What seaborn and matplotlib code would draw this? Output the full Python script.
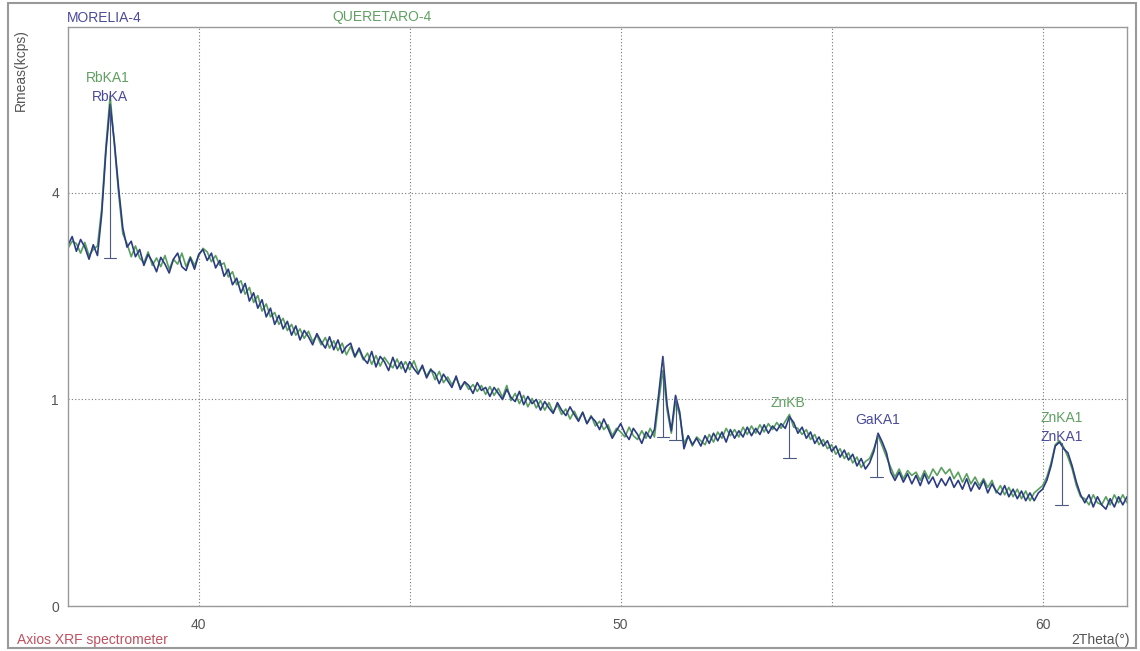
import numpy as np
import pandas as pd
import matplotlib
matplotlib.use("Agg")
import matplotlib.pyplot as plt
from matplotlib.patches import Rectangle
from matplotlib.ticker import MultipleLocator, FixedLocator, FuncFormatter
import seaborn as sns

# 2Theta grid of the scan (degrees), 0.1 step
theta = np.round(np.arange(36.9, 62.05, 0.1), 1)

# Rmeas (kcps) - MORELIA-4 (blue)
morelia = [
    3.05, 3.20, 2.95, 3.15, 3.02, 2.82, 3.06, 2.88, 3.60, 4.85,
    5.90, 5.05, 4.10, 3.35, 3.02, 3.12, 2.86, 2.98, 2.72, 2.90,
    2.78, 2.62, 2.85, 2.74, 2.60, 2.82, 2.92, 2.70, 2.64, 2.84,
    2.66, 2.90, 2.98, 2.80, 2.92, 2.68, 2.80, 2.55, 2.66, 2.42,
    2.52, 2.30, 2.44, 2.18, 2.30, 2.08, 2.20, 1.96, 2.08, 1.86,
    1.98, 1.80, 1.90, 1.72, 1.84, 1.66, 1.78, 1.70, 1.60, 1.74,
    1.64, 1.56, 1.70, 1.54, 1.66, 1.50, 1.58, 1.62, 1.46, 1.56,
    1.44, 1.38, 1.52, 1.34, 1.46, 1.40, 1.30, 1.45, 1.32, 1.40,
    1.28, 1.40, 1.32, 1.26, 1.36, 1.22, 1.31, 1.27, 1.16, 1.26,
    1.19, 1.12, 1.24, 1.10, 1.18, 1.14, 1.06, 1.17, 1.09, 1.12,
    1.03, 1.12, 1.06, 1.00, 1.10, 1.02, 0.98, 1.08, 0.95, 1.03,
    0.96, 1.00, 0.90, 0.98, 0.92, 0.87, 0.97, 0.90, 0.85, 0.93,
    0.86, 0.80, 0.88, 0.78, 0.84, 0.80, 0.73, 0.82, 0.74, 0.66,
    0.72, 0.78, 0.70, 0.65, 0.74, 0.69, 0.62, 0.71, 0.66, 0.73,
    1.05, 1.46, 0.95, 0.72, 1.04, 0.88, 0.58, 0.68, 0.61, 0.66,
    0.60, 0.68, 0.62, 0.70, 0.64, 0.71, 0.63, 0.73, 0.66, 0.72,
    0.67, 0.75, 0.68, 0.74, 0.69, 0.77, 0.70, 0.76, 0.72, 0.78,
    0.74, 0.84, 0.79, 0.70, 0.75, 0.66, 0.71, 0.62, 0.67, 0.60,
    0.64, 0.56, 0.60, 0.52, 0.57, 0.50, 0.54, 0.46, 0.51, 0.44,
    0.48, 0.56, 0.70, 0.63, 0.55, 0.42, 0.37, 0.42, 0.36, 0.41,
    0.35, 0.40, 0.34, 0.41, 0.35, 0.39, 0.33, 0.38, 0.34, 0.39,
    0.33, 0.37, 0.32, 0.38, 0.31, 0.36, 0.32, 0.37, 0.30, 0.35,
    0.31, 0.29, 0.34, 0.28, 0.32, 0.27, 0.31, 0.26, 0.30, 0.26,
    0.30, 0.32, 0.37, 0.46, 0.60, 0.63, 0.58, 0.55, 0.46, 0.36,
    0.29, 0.25, 0.29, 0.23, 0.28, 0.24, 0.22, 0.27, 0.23, 0.28,
    0.24, 0.28,
]

# Rmeas (kcps) - QUERETARO-4 (green)
queretaro = [
    3.00, 3.12, 3.08, 2.92, 3.10, 2.88, 2.98, 3.04, 3.70, 4.95,
    6.10, 5.00, 4.00, 3.25, 3.08, 2.86, 3.04, 2.84, 2.76, 2.94,
    2.72, 2.84, 2.70, 2.88, 2.66, 2.82, 2.74, 2.92, 2.70, 2.86,
    2.72, 2.88, 3.00, 2.94, 2.78, 2.88, 2.72, 2.76, 2.54, 2.62,
    2.42, 2.48, 2.28, 2.38, 2.16, 2.26, 2.04, 2.14, 1.96, 2.02,
    1.86, 1.94, 1.78, 1.86, 1.72, 1.80, 1.68, 1.77, 1.64, 1.72,
    1.60, 1.69, 1.56, 1.65, 1.53, 1.62, 1.48, 1.58, 1.45, 1.54,
    1.42, 1.50, 1.37, 1.47, 1.35, 1.45, 1.38, 1.33, 1.43, 1.32,
    1.40, 1.31, 1.41, 1.28, 1.34, 1.24, 1.32, 1.20, 1.29, 1.17,
    1.23, 1.15, 1.22, 1.12, 1.17, 1.10, 1.15, 1.08, 1.14, 1.05,
    1.13, 1.04, 1.11, 1.02, 1.14, 0.99, 1.06, 0.96, 1.04, 0.93,
    1.01, 0.92, 0.99, 0.90, 0.97, 0.88, 0.95, 0.86, 0.91, 0.82,
    0.89, 0.81, 0.88, 0.78, 0.85, 0.76, 0.80, 0.73, 0.77, 0.68,
    0.74, 0.71, 0.67, 0.75, 0.68, 0.65, 0.72, 0.66, 0.74, 0.67,
    0.98, 1.30, 0.90, 0.70, 0.98, 0.85, 0.62, 0.68, 0.60, 0.67,
    0.64, 0.61, 0.69, 0.63, 0.71, 0.66, 0.74, 0.68, 0.73, 0.67,
    0.75, 0.69, 0.76, 0.70, 0.77, 0.71, 0.78, 0.73, 0.79, 0.74,
    0.80, 0.86, 0.75, 0.74, 0.69, 0.73, 0.65, 0.69, 0.61, 0.65,
    0.58, 0.61, 0.54, 0.58, 0.51, 0.55, 0.48, 0.52, 0.45, 0.49,
    0.51, 0.58, 0.68, 0.60, 0.52, 0.45, 0.39, 0.44, 0.38, 0.43,
    0.40, 0.42, 0.37, 0.43, 0.38, 0.44, 0.40, 0.45, 0.41, 0.44,
    0.38, 0.42, 0.36, 0.41, 0.35, 0.39, 0.34, 0.38, 0.33, 0.37,
    0.30, 0.34, 0.29, 0.33, 0.28, 0.32, 0.27, 0.31, 0.26, 0.30,
    0.32, 0.34, 0.39, 0.48, 0.61, 0.64, 0.59, 0.52, 0.44, 0.34,
    0.28, 0.27, 0.24, 0.29, 0.25, 0.24, 0.28, 0.24, 0.29, 0.25,
    0.29, 0.25,
]

# peak markers (2Theta, top, base in kcps)
peak_pos = [37.9, 51.0, 51.3, 54.0, 56.07, 60.45]
peak_top = [5.9, 1.44, 1.02, 0.84, 0.70, 0.62]
peak_base = [2.84, 0.67, 0.646, 0.514, 0.39, 0.24]

# peak labels
label_text = ["RbKA1", "RbKA", "ZnKB", "GaKA1", "ZnKA1", "ZnKA1"]
label_x = [37.85, 37.9, 53.96, 56.09, 60.45, 60.45]
label_y = [6.54, 6.08, 0.966, 0.811, 0.829, 0.670]
label_sample = ["QUERETARO-4", "MORELIA-4", "QUERETARO-4", "MORELIA-4", "QUERETARO-4", "MORELIA-4"]

colors = {"MORELIA-4": "#2c3c82", "QUERETARO-4": "#5aa05e"}
text_colors = {"MORELIA-4": "#4a4a9a", "QUERETARO-4": "#5fa060"}

df = pd.concat([
    pd.DataFrame({"theta": theta, "rmeas": queretaro, "sample": "QUERETARO-4"}),
    pd.DataFrame({"theta": theta, "rmeas": morelia, "sample": "MORELIA-4"}),
])

sns.set_style("white")
plt.rcParams["font.family"] = ["Liberation Sans", "DejaVu Sans"]

fig = plt.figure(figsize=(11.4, 6.51), dpi=100)
ax = fig.add_axes([0.0596, 0.0691, 0.9290, 0.8894])

sns.lineplot(data=df, x="theta", y="rmeas", hue="sample", palette=colors,
             hue_order=["QUERETARO-4", "MORELIA-4"], estimator=None,
             linewidth=1.2, legend=False, ax=ax)

# square-root intensity axis
ax.set_yscale("function", functions=(lambda v: np.sqrt(np.clip(v, 0, None)), np.square))
ax.set_xlim(36.9, 62.0)
ax.set_ylim(0, 7.86)

# peak markers
for p, t, b in zip(peak_pos, peak_top, peak_base):
    ax.plot([p, p], [b, t], color="#4a5a80", lw=0.8)
    ax.plot([p - 0.15, p + 0.15], [b, b], color="#4a5a80", lw=0.8)

for s, lx, ly, smp in zip(label_text, label_x, label_y, label_sample):
    ax.text(lx, ly, s, ha="center", va="center", fontsize=10, color=text_colors[smp])

# ticks and grid
ax.xaxis.set_major_locator(MultipleLocator(5))
ax.xaxis.set_minor_locator(MultipleLocator(1))
ax.xaxis.set_major_formatter(FuncFormatter(lambda v, p: "%d" % v if v % 10 == 0 else ""))
ax.yaxis.set_major_locator(FixedLocator([0, 1, 4]))
ax.yaxis.set_minor_locator(FixedLocator([2.5, 6.5]))
ax.tick_params(axis="both", which="major", direction="inout", length=7, width=0.8,
               color="#666666", labelsize=10, labelcolor="#555555", pad=3)
ax.tick_params(axis="x", which="major", pad=5)
ax.tick_params(axis="both", which="minor", direction="inout", length=5, width=0.6, color="#888888")
ax.grid(True, which="major", linestyle=(0, (1, 2)), color="#777777", linewidth=0.8)
ax.set_xlabel("")
ax.set_ylabel("")
for sp in ax.spines.values():
    sp.set_color("#999999")
    sp.set_linewidth(1.0)

# figure texts
W, H = 1140, 651
fig.text(67 / W, 1 - 18 / H, "MORELIA-4", color="#4a4a9a", fontsize=10, va="center", ha="left")
fig.text(332 / W, 1 - 17 / H, "QUERETARO-4", color="#5fa060", fontsize=10, va="center", ha="left")
fig.text(21 / W, 1 - 70 / H, "Rmeas(kcps)", color="#555555", fontsize=10, rotation=90, va="center", ha="center")
fig.text(17 / W, 1 - 640 / H, "Axios XRF spectrometer", color="#c05060", fontsize=10, va="center", ha="left")
fig.text(1130 / W, 1 - 640 / H, "2Theta(°)", color="#555555", fontsize=10, va="center", ha="right")

# outer frame of the instrument print-out
fig.patches.append(Rectangle((8 / W, 3 / H), 1128 / W, 645 / H, transform=fig.transFigure,
                             fill=False, edgecolor="#999999", linewidth=1.5))

fig.savefig("out.png", dpi=100)
